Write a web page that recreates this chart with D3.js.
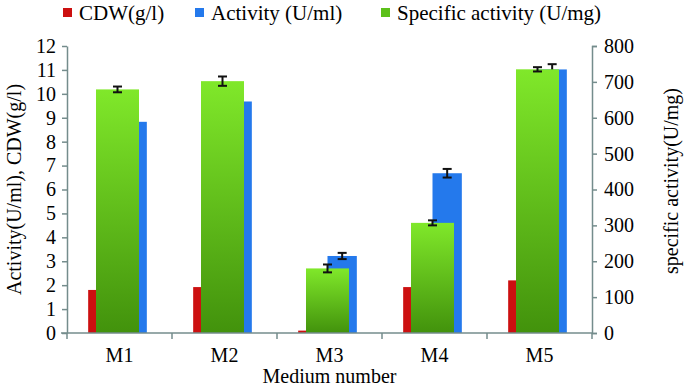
<!DOCTYPE html>
<html>
<head>
<meta charset="utf-8">
<script src="https://cdn.jsdelivr.net/npm/d3@7"></script>
<style>
  body { margin: 0; background: #fff; }
  svg text { font-family: "Liberation Serif", "DejaVu Serif", serif !important; fill: #000; }
</style>
</head>
<body>
<div id="chart"></div>
<script>
// data
var media = ["M1", "M2", "M3", "M4", "M5"];
var cdw = [1.8, 1.92, 0.1, 1.92, 2.2];
var activity = [8.83, 9.68, 3.22, 6.68, 11.02];
var activityErr = [null, null, 0.13, 0.18, 0.22];
var specific = [679, 702, 180, 307, 735];
var specificErr = [8, 13, 11, 7, 6];
var leftTicks = d3.range(0, 13);
var rightTicks = d3.range(0, 801, 100);

var width = 685, height = 386;
var margin = { top: 46, right: 80, bottom: 53, left: 67 };
var axisColor = "#748c8c";
var serif = "'Liberation Serif', 'DejaVu Serif', serif";

var svg = d3.select("#chart").append("svg")
    .attr("width", width)
    .attr("height", height)
    .attr("font-family", serif);

var defs = svg.append("defs");
var grad = defs.append("linearGradient")
    .attr("id", "greenGrad")
    .attr("x1", 0).attr("y1", 0).attr("x2", 0).attr("y2", 1);
grad.append("stop").attr("offset", "0%").attr("stop-color", "#80e82a");
grad.append("stop").attr("offset", "100%").attr("stop-color", "#42920c");

var x = d3.scaleBand()
    .domain(media)
    .range([margin.left, width - margin.right - 13])
    .padding(0);

var sub = d3.scaleBand()
    .domain(["cdw", "act"])
    .range([0, x.bandwidth()])
    .paddingInner(0)
    .paddingOuter(0.79);

var yL = d3.scaleLinear().domain([0, 12]).range([height - margin.bottom, margin.top]);
var yR = d3.scaleLinear().domain([0, 800]).range([height - margin.bottom, margin.top]);

var shift = -2;
var greenW = 43;

// red bars
svg.append("g").selectAll("rect")
    .data(media)
    .join("rect")
    .attr("x", function (d) { return x(d) + sub("cdw") + shift; })
    .attr("y", function (d, i) { return yL(cdw[i]); })
    .attr("width", sub.bandwidth())
    .attr("height", function (d, i) { return yL(0) - yL(cdw[i]); })
    .attr("fill", "#cc1010");

// blue bars
svg.append("g").selectAll("rect")
    .data(media)
    .join("rect")
    .attr("x", function (d) { return x(d) + sub("act") + shift; })
    .attr("y", function (d, i) { return yL(activity[i]); })
    .attr("width", sub.bandwidth())
    .attr("height", function (d, i) { return yL(0) - yL(activity[i]); })
    .attr("fill", "#2479ec");

function errorBar(g, cx, yTop, yBot) {
  g.append("line").attr("x1", cx).attr("x2", cx).attr("y1", yTop).attr("y2", yBot);
  g.append("line").attr("x1", cx - 4.5).attr("x2", cx + 4.5).attr("y1", yTop).attr("y2", yTop);
  g.append("line").attr("x1", cx - 4.5).attr("x2", cx + 4.5).attr("y1", yBot).attr("y2", yBot);
}

var errBlue = svg.append("g").attr("stroke", "#111").attr("stroke-width", 2);
media.forEach(function (m, i) {
  if (activityErr[i] == null) return;
  var cx = x(m) + sub("act") + shift + sub.bandwidth() / 2;
  errorBar(errBlue, cx, yL(activity[i] + activityErr[i]), yL(activity[i] - activityErr[i]));
});

// green bars (secondary axis, drawn in front)
svg.append("g").selectAll("rect")
    .data(media)
    .join("rect")
    .attr("x", function (d) { return x(d) + x.bandwidth() / 2 + shift - greenW / 2; })
    .attr("y", function (d, i) { return yR(specific[i]); })
    .attr("width", greenW)
    .attr("height", function (d, i) { return yR(0) - yR(specific[i]); })
    .attr("fill", "url(#greenGrad)");

var errGreen = svg.append("g").attr("stroke", "#111").attr("stroke-width", 2);
media.forEach(function (m, i) {
  var cx = x(m) + x.bandwidth() / 2 + shift;
  errorBar(errGreen, cx, yR(specific[i] + specificErr[i]), yR(specific[i] - specificErr[i]));
});

// axes
function styleAxis(g) {
  g.attr("font-family", serif).attr("font-size", 20);
  g.selectAll("path, line").attr("stroke", axisColor).attr("stroke-width", 1.5);
  g.selectAll("text").attr("fill", "#000");
}

svg.append("g")
    .attr("transform", "translate(" + margin.left + ",0)")
    .call(d3.axisLeft(yL).tickValues(leftTicks).tickSize(5).tickSizeOuter(0).tickPadding(6))
    .call(styleAxis);

svg.append("g")
    .attr("transform", "translate(" + x.range()[1] + ",0)")
    .call(d3.axisRight(yR).tickValues(rightTicks).tickSize(5).tickSizeOuter(5).tickPadding(7))
    .call(styleAxis);

var xAxis = svg.append("g")
    .attr("transform", "translate(0," + yL(0) + ")");
xAxis.append("line")
    .attr("x1", margin.left - 6).attr("x2", x.range()[1])
    .attr("stroke", axisColor).attr("stroke-width", 1.5);
xAxis.selectAll(".tk")
    .data(media.concat(["end"]))
    .join("line")
    .attr("x1", function (d, i) { return x.range()[0] + i * x.step(); })
    .attr("x2", function (d, i) { return x.range()[0] + i * x.step(); })
    .attr("y1", 0).attr("y2", 6)
    .attr("stroke", axisColor).attr("stroke-width", 1.5);
xAxis.selectAll("text")
    .data(media)
    .join("text")
    .attr("x", function (d) { return x(d) + x.bandwidth() / 2; })
    .attr("y", 29)
    .attr("text-anchor", "middle")
    .attr("font-size", 20)
    .text(function (d) { return d; });

// axis titles
svg.append("text")
    .attr("x", (x.range()[0] + x.range()[1]) / 2)
    .attr("y", 383)
    .attr("text-anchor", "middle")
    .attr("font-size", 20)
    .text("Medium number");

svg.append("text")
    .attr("transform", "translate(21," + (yL(6)) + ") rotate(-90)")
    .attr("text-anchor", "middle")
    .attr("font-size", 20)
    .text("Activity(U/ml), CDW(g/l)");

svg.append("text")
    .attr("transform", "translate(678," + 181 + ") rotate(-90)")
    .attr("text-anchor", "middle")
    .attr("font-size", 20)
    .text("specific activity(U/mg)");

// legend
var legendItems = [
  { label: "CDW(g/l)", color: "#cc1010", x: 63 },
  { label: "Activity (U/ml)", color: "#2479ec", x: 195 },
  { label: "Specific activity (U/mg)", color: "#5cc01a", x: 381 }
];
var legend = svg.append("g");
legend.selectAll("rect")
    .data(legendItems)
    .join("rect")
    .attr("x", function (d) { return d.x; })
    .attr("y", 8)
    .attr("width", 9).attr("height", 9)
    .attr("fill", function (d) { return d.color; });
legend.selectAll("text")
    .data(legendItems)
    .join("text")
    .attr("x", function (d) { return d.x + 16; })
    .attr("y", 20)
    .attr("font-size", 21)
    .text(function (d) { return d.label; });
</script>
</body>
</html>
